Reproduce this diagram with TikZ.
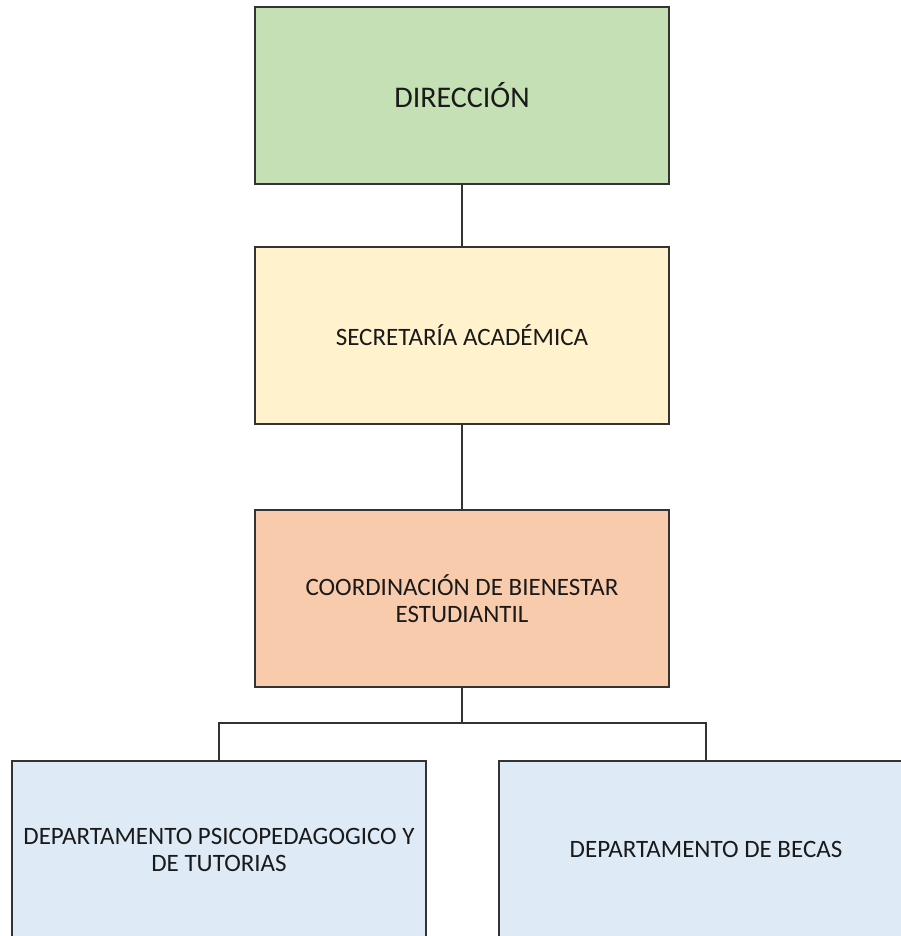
\documentclass[tikz,border=0pt]{standalone}
\usepackage{fontspec}
\setmainfont{Carlito}
\definecolor{dirgreen}{HTML}{C5E0B4}
\definecolor{secyellow}{HTML}{FFF2CC}
\definecolor{cooorange}{HTML}{F8CBAD}
\definecolor{depblue}{HTML}{DEEBF7}
\definecolor{txt}{HTML}{1A1A1A}
\definecolor{edge}{HTML}{333333}
\begin{document}
\begin{tikzpicture}[x=1pt,y=-1pt,
  orgbox/.style={draw=edge, line width=1.3pt, rectangle, minimum width=414pt, minimum height=177pt,
    inner sep=0pt, align=center, text=txt, font=\fontsize{25}{27}\selectfont},
  link/.style={draw=edge, line width=1.5pt}]
\useasboundingbox (0,0) rectangle (901,936);
\clip (0,0) rectangle (901,936);
\fill[white] (0,0) rectangle (901,936);
\node[orgbox, fill=dirgreen, font=\fontsize{30}{34}\selectfont] (dir) at (462,95.5) {DIRECCIÓN};
\node[orgbox, fill=secyellow] (sec) at (462,335.5) {SECRETARÍA ACADÉMICA};
\node[orgbox, fill=cooorange] (coo) at (462,598.5) {COORDINACIÓN DE BIENESTAR\\ESTUDIANTIL};
\node[orgbox, fill=depblue] (psi) at (219,849.5) {DEPARTAMENTO PSICOPEDAGOGICO Y\\DE TUTORIAS};
\node[orgbox, fill=depblue] (bec) at (706,849.5) {DEPARTAMENTO DE BECAS};
\coordinate (j) at (462,723);
\draw[link] (dir.south) -- (sec.north);
\draw[link] (sec.south) -- (coo.north);
\draw[link] (coo.south) -- (j);
\draw[link] (j) -| (psi.north);
\draw[link] (j) -| (bec.north);
\end{tikzpicture}
\end{document}
